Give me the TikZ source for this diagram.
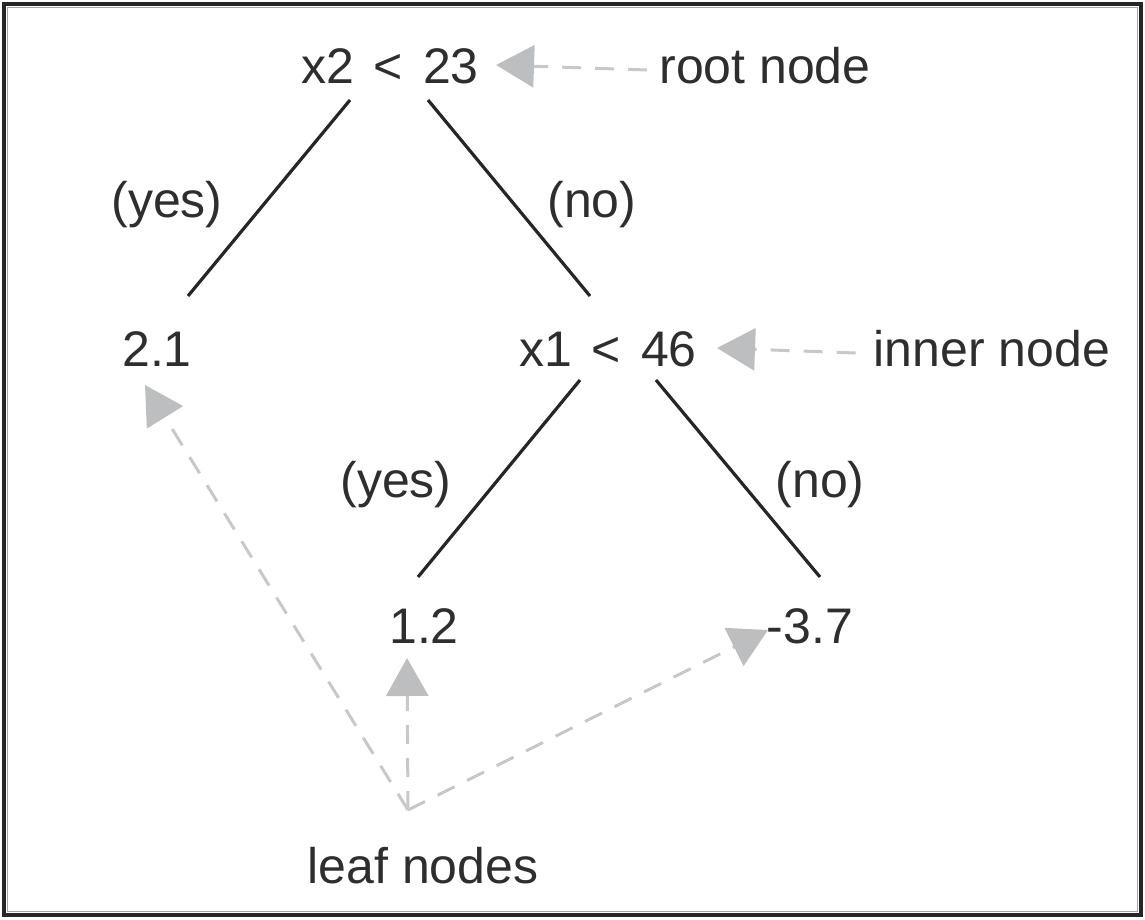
\documentclass[tikz,border=0pt]{standalone}
\usepackage{fontspec}
\setmainfont{Liberation Sans}
\usetikzlibrary{arrows.meta,calc}
\definecolor{txt}{HTML}{2E2E2E}
\definecolor{ptrgray}{HTML}{BDBEC0}
\definecolor{dashgray}{HTML}{C8C8C8}
\tikzset{
  lbl/.style={inner sep=0pt, text=txt, font=\fontsize{50}{60}\selectfont},
  val/.style={lbl, text height=36pt, text depth=0pt},
  edge/.style={draw=black!85, line width=3.2pt},
  ptr/.style={draw=dashgray, line width=3pt, dash pattern=on 19pt off 14pt,
    -{Triangle[length=38pt,width=42pt,color=ptrgray]}},
}
\begin{document}
\begin{tikzpicture}[x=1pt,y=-1pt]
\useasboundingbox (0,0) rectangle (1145,919);
\draw[black!85, line width=4pt] (4,4) rectangle (1141,915);
\draw[black!35, line width=1.2pt] (7.5,7.5) rectangle (1137.5,911.5);
% tree nodes
\node[val] (root) at (390,65) {x2\hspace{20pt}<\hspace{20pt}23};
\node[val] (n21) at (157,348) {2.1};
\node[val] (n46) at (608,348) {x1\hspace{20pt}<\hspace{20pt}46};
\node[val] (n12) at (424,625) {1.2};
\node[val] (n37) at (810,625) {-3.7};
% edge labels
\node[lbl] (y1) at (167,205) {(yes)};
\node[lbl] (no1) at (592,205) {(no)};
\node[lbl] (y2) at (396,485) {(yes)};
\node[lbl] (no2) at (820,485) {(no)};
% annotations
\node[val, text depth=10pt] (rootlab) at (765,70) {root node};
\node[val, text depth=10pt] (innerlab) at (992,353) {inner node};
\node[val, text depth=10pt] (leaflab) at (423,870) {leaf nodes};
\coordinate (leaf) at (408,810);
% edges
\draw[edge] ($(root.center)+(-40,35)$) -- ($(n21.center)+(31,-52)$);
\draw[edge] ($(root.center)+(38,35)$) -- ($(n46.center)+(-18,-52)$);
\draw[edge] ($(n46.center)+(-28,32)$) -- ($(n12.center)+(-6,-48)$);
\draw[edge] ($(n46.center)+(48,32)$) -- ($(n37.center)+(10,-48)$);
% pointers
\draw[ptr] ([xshift=-12pt]rootlab.west) -- ([xshift=17pt]root.east);
\draw[ptr] ([xshift=-18pt]innerlab.west) -- ([xshift=20pt]n46.east);
\draw[ptr] (leaf) -- ($(n21.center)+(-12,37)$);
\draw[ptr] (leaf) -- ($(n12.center)+(-17,33)$);
\draw[ptr] (leaf) -- ($(n37.center)+(-42,5)$);
\end{tikzpicture}
\end{document}
